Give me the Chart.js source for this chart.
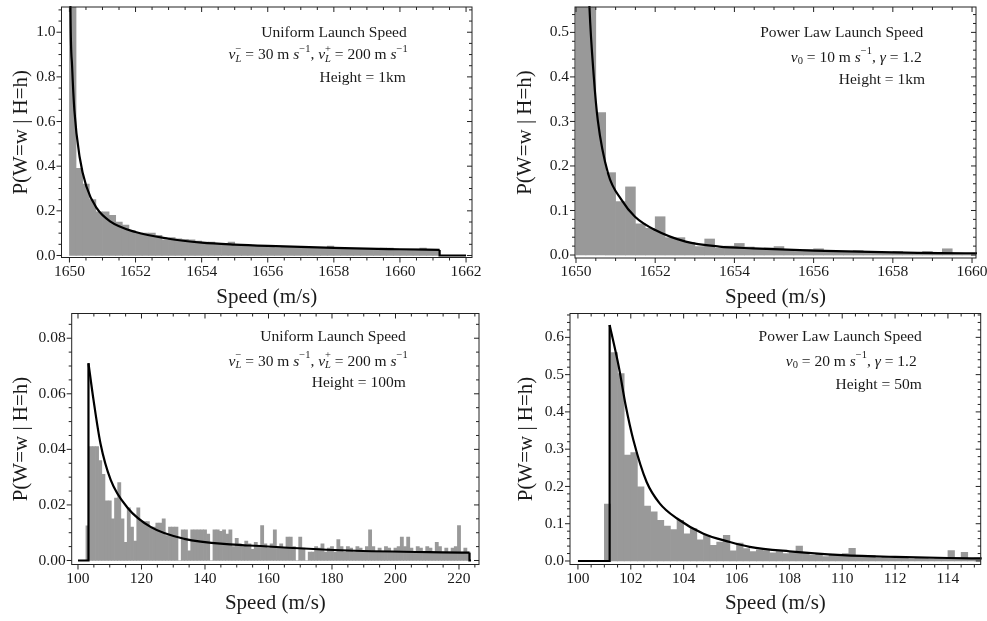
<!DOCTYPE html>
<html>
<head>
<meta charset="utf-8">
<title>Speed distributions</title>
<script src="https://cdn.jsdelivr.net/npm/chart.js@4"></script>
<style>
  body { margin: 0; background: #fff; }
  #wrap { position: relative; width: 987px; height: 621px; overflow: hidden; }
  canvas { position: absolute; }
</style>
</head>
<body>
<div id="wrap">
  <canvas id="cA" width="490" height="310" style="left:0;top:0"></canvas>
  <canvas id="cB" width="492" height="310" style="left:495px;top:0"></canvas>
  <canvas id="cC" width="490" height="316" style="left:0;top:305px"></canvas>
  <canvas id="cD" width="492" height="316" style="left:495px;top:305px"></canvas>
</div>
<script>
// ---- top left: uniform launch speed, height 1 km ----
const binStartA = 1650, binWidthA = 0.2;
const barsA = [2.0, 0.39, 0.32, 0.25, 0.195, 0.195, 0.18, 0.15, 0.136, 0.11,
  0.10, 0.10, 0.10, 0.09, 0.07, 0.08, 0.075, 0.072, 0.07, 0.065,
  0.06, 0.06, 0.055, 0.052, 0.06, 0.05, 0.048, 0.045, 0.045, 0.044,
  0.04, 0.035, 0.04, 0.038, 0.037, 0.036, 0.035, 0.034, 0.034, 0.042,
  0.033, 0.032, 0.031, 0.03, 0.03, 0.03, 0.029, 0.033, 0.033, 0.028,
  0.027, 0.026, 0.027, 0.033, 0.026, 0.025];
const curveAx = [1650.015, 1650.03, 1650.08, 1650.15, 1650.31, 1650.51, 1650.82, 1651.23, 1652, 1653, 1654, 1655, 1656, 1658, 1660, 1661.2];
const curveAy = [1.6, 1.12, 0.85, 0.65, 0.44, 0.31, 0.213, 0.153, 0.105, 0.075, 0.058, 0.049, 0.043, 0.034, 0.028, 0.025];
const stepsA = [[[1661.2, 1661.2, 1662], [0.025, 0, 0]]];
const xTicksA = [1650, 1652, 1654, 1656, 1658, 1660, 1662];
const yTicksA = [0, 0.2, 0.4, 0.6, 0.8, 1.0];

// ---- top right: power law launch speed, height 1 km ----
const binStartB = 1650, binWidthB = 0.25;
const barsB = [0.9, 0.7, 0.32, 0.185, 0.12, 0.153, 0.07, 0.06, 0.086, 0.039,
  0.039, 0.028, 0.019, 0.036, 0.015, 0.02, 0.026, 0.018, 0.014, 0.016,
  0.019, 0.012, 0.008, 0.012, 0.014, 0.01, 0.008, 0.006, 0.01, 0.008,
  0.004, 0.006, 0.008, 0.005, 0.003, 0.008, 0.004, 0.014, 0.004, 0.002, 0.002];
const curveBx = [1650.25, 1650.34, 1650.45, 1650.55, 1650.81, 1651.15, 1651.49, 1652, 1652.77, 1653.62, 1654.47, 1656, 1658, 1660, 1660.2];
const curveBy = [0.8, 0.557, 0.40, 0.303, 0.183, 0.124, 0.086, 0.056, 0.030, 0.019, 0.015, 0.010, 0.006, 0.004, 0.004];
const stepsB = [];
const xTicksB = [1650, 1652, 1654, 1656, 1658, 1660];
const yTicksB = [0, 0.1, 0.2, 0.3, 0.4, 0.5];

// ---- bottom left: uniform launch speed, height 100 m ----
const binStartC = 102.5, binWidthC = 1;
const barsC = [0.0125, 0.041, 0.041, 0.041, 0.036, 0.031, 0.0215, 0.0215, 0.015, 0.0225,
  0.028, 0.015, 0.0065, 0.019, 0.012, 0.007, 0.019, 0.014, 0.014, 0.014,
  0.012, 0.012, 0.0135, 0.0135, 0.015, 0.009, 0.012, 0.012, 0.012, 0,
  0.011, 0.011, 0.0035,
  0.011, 0.011, 0.011, 0.011, 0.011, 0.0095, 0, 0.011, 0.011, 0.0105, 0.011, 0.0095, 0.011, 0.005, 0.008,
  0.006, 0.005, 0.007, 0.006, 0.004, 0.0065, 0.005, 0.0126, 0.006, 0.0045,
  0.006, 0.011, 0.005, 0.006, 0.0045, 0.0084, 0.0084, 0.005, 0, 0.0084,
  0.0045, 0, 0.003, 0.003, 0.005, 0.0045, 0.006, 0.003, 0.0045, 0.005,
  0.003, 0.0075, 0.005, 0.003, 0.005, 0.0045, 0.003, 0.005, 0.0045, 0.003,
  0.005, 0.011, 0.005, 0.003, 0.0045, 0.003, 0.005, 0.0045, 0.003, 0.0045,
  0.005, 0.0084, 0.005, 0.0084, 0.0045, 0.003, 0.005, 0.0045, 0.003, 0.005,
  0.0045, 0.003, 0.0065, 0.005, 0.003, 0.0045, 0.003, 0.0045, 0.005, 0.0126,
  0.003, 0.0045, 0.003];
const curveCx = [103.3, 104.9, 107.1, 110.3, 115.6, 123, 133.5, 149.3, 154, 185, 223.3];
const curveCy = [0.071, 0.0577, 0.042, 0.029, 0.019, 0.012, 0.0078, 0.0057, 0.0054, 0.0036, 0.0028];
const stepsC = [[[100, 103.3, 103.3], [0, 0, 0.071]], [[223.3, 223.3, 223.8], [0.0028, 0, 0]]];
const xTicksC = [100, 120, 140, 160, 180, 200, 220];
const yTicksC = [0, 0.02, 0.04, 0.06, 0.08];

// ---- bottom right: power law launch speed, height 50 m ----
const binStartD = 101, binWidthD = 0.25;
const barsD = [0.153, 0.559, 0.503, 0.284, 0.291, 0.199, 0.147, 0.132, 0.109, 0.094,
  0.084, 0.109, 0.073, 0.087, 0.057, 0.069, 0.042, 0.051, 0.069, 0.027,
  0.048, 0.033, 0.025, 0.03, 0.028, 0.022, 0.025, 0.02, 0.022, 0.04,
  0.022, 0.015, 0.02, 0.012, 0.016, 0.018, 0.02, 0.034, 0.014, 0.012,
  0.015, 0.008, 0.01, 0.012, 0.008, 0.01, 0.006, 0.01, 0.008, 0.006,
  0.008, 0.006, 0.028, 0.008, 0.023, 0.006, 0.008];
const curveDx = [101.2, 101.55, 101.8, 102.1, 102.6, 103.1, 103.75, 104.75, 105.75, 106.5, 108, 110, 112, 114, 115.3];
const curveDy = [0.633, 0.52, 0.42, 0.324, 0.212, 0.154, 0.114, 0.073, 0.051, 0.038, 0.026, 0.016, 0.011, 0.008, 0.007];
const stepsD = [[[100, 101.2, 101.2], [0, 0, 0.633]]];
const xTicksD = [100, 102, 104, 106, 108, 110, 112, 114];
const yTicksD = [0, 0.1, 0.2, 0.3, 0.4, 0.5, 0.6];

const FONT = "'Liberation Serif', 'Times New Roman', serif";
const INK = '#1a1a1a';

const uniformNote = [
  [{ t: 'Uniform Launch Speed' }],
  [{ t: 'v', i: 1 }, { t: 'L', i: 1, sub: 1 }, { t: '\u2212', sup: 1, stack: 1 }, { t: ' = 30 m ' }, { t: 's', i: 1 }, { t: '\u22121', sup: 1 },
   { t: ', ' }, { t: 'v', i: 1 }, { t: 'L', i: 1, sub: 1 }, { t: '+', sup: 1, stack: 1 }, { t: ' = 200 m ' }, { t: 's', i: 1 }, { t: '\u22121', sup: 1 }]
];
function powerNote(v0) {
  return [
    [{ t: 'Power Law Launch Speed' }],
    [{ t: 'v', i: 1 }, { t: '0', sub: 1 }, { t: ' = ' + v0 + ' m ' }, { t: 's', i: 1 }, { t: '\u22121', sup: 1 }, { t: ', ' }, { t: '\u03b3', i: 1 }, { t: ' = 1.2' }]
  ];
}

function pts(xs, ys) {
  return xs.map((x, i) => ({ x: x, y: ys[i] }));
}

// draw one line of mixed text (italic, sub and superscripts), right aligned
function drawRich(ctx, parts, right, y) {
  const fontOf = p => (p.i ? 'italic ' : '') + (p.sub || p.sup ? 10.5 : 15.5) + 'px ' + FONT;
  const widths = parts.map(p => { ctx.font = fontOf(p); return ctx.measureText(p.t).width; });
  const xs = [];
  let total = 0;
  parts.forEach((p, i) => {
    if (p.stack) {
      xs.push(xs[i - 1]);
      total = xs[i - 1] + Math.max(widths[i - 1], widths[i]);
    } else {
      xs.push(total);
      total += widths[i];
    }
  });
  const x0 = right - total;
  parts.forEach((p, i) => {
    ctx.font = fontOf(p);
    ctx.fillText(p.t, x0 + xs[i], y + (p.sub ? 4 : p.sup ? -6 : 0));
  });
}

function makePanel(id, p) {
  const bars = p.bars.map((v, i) => ({ x: p.binStart + (i + 0.5) * p.binWidth, y: v }));
  const lineStyle = { type: 'line', borderColor: '#000', borderWidth: 2.2, pointRadius: 0, fill: false, clip: 1, order: 0 };
  const datasets = [
    Object.assign({ data: pts(p.curveX, p.curveY), cubicInterpolationMode: 'monotone' }, lineStyle)
  ];
  p.steps.forEach(s => datasets.push(Object.assign({ data: pts(s[0], s[1]), tension: 0 }, lineStyle)));
  datasets.push({ type: 'bar', data: bars, backgroundColor: '#999999', borderWidth: 0,
    barPercentage: 1, categoryPercentage: 1, clip: 0, order: 2 });

  const c = p.canvas, f = p.frame;
  const near = (list, v) => list.some(t => Math.abs(t - v) < 1e-6);

  // frame with ticks on all four sides
  const framePlugin = {
    id: 'frame' + id,
    afterDraw(chart) {
      const { ctx, chartArea: a, scales: { x, y } } = chart;
      ctx.save();
      ctx.strokeStyle = '#222';
      ctx.lineWidth = 1;
      ctx.beginPath();
      for (let k = Math.ceil(x.min / p.xMinor - 1e-9); k * p.xMinor <= x.max + 1e-9; k++) {
        const v = k * p.xMinor, px = x.getPixelForValue(v);
        const len = near(p.xTicks, v) ? 5 : 3;
        ctx.moveTo(px, a.bottom); ctx.lineTo(px, a.bottom + len);
        ctx.moveTo(px, a.top); ctx.lineTo(px, a.top + len);
      }
      for (let k = Math.ceil(y.min / p.yMinor - 1e-9); k * p.yMinor <= y.max + 1e-9; k++) {
        const v = k * p.yMinor, py = y.getPixelForValue(v);
        const len = near(p.yTicks, v) ? 5 : 3;
        ctx.moveTo(a.left, py); ctx.lineTo(a.left - len, py);
        ctx.moveTo(a.right, py); ctx.lineTo(a.right - len, py);
      }
      ctx.stroke();
      ctx.strokeRect(a.left, a.top, a.right - a.left, a.bottom - a.top);
      ctx.restore();
    }
  };

  const notePlugin = {
    id: 'note' + id,
    afterDraw(chart) {
      const { ctx, chartArea: a } = chart;
      ctx.save();
      ctx.fillStyle = INK;
      ctx.textBaseline = 'middle';
      p.note.forEach((line, i) => drawRich(ctx, line, a.right - p.noteRight[i], a.top + p.noteY[i]));
      ctx.restore();
    }
  };

  return new Chart(document.getElementById(id), {
    type: 'bar',
    data: { datasets: datasets },
    options: {
      responsive: false,
      animation: false,
      events: [],
      layout: { padding: { left: 0, top: f.t - c.t, right: c.l + c.w - f.r, bottom: 0 } },
      plugins: { legend: { display: false }, tooltip: { enabled: false } },
      scales: {
        x: {
          type: 'linear', offset: false, min: p.xMin, max: p.xMax,
          grid: { display: false, drawTicks: false }, border: { display: false },
          ticks: { font: { family: FONT, size: 15.5 }, color: INK, padding: 5, maxRotation: 0, autoSkip: false,
            callback: v => String(v) },
          afterBuildTicks: s => { s.ticks = p.xTicks.map(v => ({ value: v })); },
          afterFit: s => { s.height = c.t + c.h - f.b; s.paddingLeft = 0; s.paddingRight = 0; },
          title: { display: true, text: 'Speed (m/s)', color: INK, font: { family: FONT, size: 21 },
            padding: { top: 0, bottom: c.t + c.h - 12.6 - p.xTitleY } }
        },
        y: {
          type: 'linear', min: p.yMin, max: p.yMax,
          grid: { display: false, drawTicks: false }, border: { display: false },
          ticks: { font: { family: FONT, size: 15.5 }, color: INK, padding: 6,
            callback: v => Number(v).toFixed(p.yDigits) },
          afterBuildTicks: s => { s.ticks = p.yTicks.map(v => ({ value: v })); },
          afterFit: s => { s.width = f.l - c.l; s.paddingTop = 0; s.paddingBottom = 0; },
          title: { display: true, text: 'P(W=w | H=h)', color: INK, font: { family: FONT, size: 21 },
            padding: { top: p.yTitleX - c.l - 12.6, bottom: 0 } }
        }
      }
    },
    plugins: [framePlugin, notePlugin]
  });
}

makePanel('cA', {
  canvas: { l: 0, t: 0, w: 490, h: 310 }, frame: { l: 61.5, t: 7, r: 472, b: 257.5 },
  xMin: 1649.76, xMax: 1662.18, yMin: -0.009, yMax: 1.113, yDigits: 1,
  xTicks: xTicksA, yTicks: yTicksA, xMinor: 0.5, yMinor: 0.05,
  bars: barsA, binStart: binStartA, binWidth: binWidthA,
  curveX: curveAx, curveY: curveAy, steps: stepsA,
  yTitleX: 21.7, xTitleY: 297,
  note: uniformNote.concat([[{ t: 'Height = 1km' }]]), noteRight: [65.3, 64.3, 66.3], noteY: [25.7, 48, 70.7]
});

makePanel('cB', {
  canvas: { l: 495, t: 0, w: 492, h: 310 }, frame: { l: 575, t: 7, r: 976, b: 258 },
  xMin: 1649.975, xMax: 1660.1, yMin: -0.0067, yMax: 0.557, yDigits: 1,
  xTicks: xTicksB, yTicks: yTicksB, xMinor: 0.5, yMinor: 0.02,
  bars: barsB, binStart: binStartB, binWidth: binWidthB,
  curveX: curveBx, curveY: curveBy, steps: stepsB,
  yTitleX: 525, xTitleY: 297,
  note: powerNote(10).concat([[{ t: 'Height = 1km' }]]), noteRight: [52.7, 54.3, 51], noteY: [26, 50.7, 73]
});

makePanel('cC', {
  canvas: { l: 0, t: 305, w: 490, h: 316 }, frame: { l: 71.7, t: 313.5, r: 479, b: 564.5 },
  xMin: 98.02, xMax: 226.3, yMin: -0.00144, yMax: 0.0889, yDigits: 2,
  xTicks: xTicksC, yTicks: yTicksC, xMinor: 5, yMinor: 0.005,
  bars: barsC, binStart: binStartC, binWidth: binWidthC,
  curveX: curveCx, curveY: curveCy, steps: stepsC,
  yTitleX: 21.7, xTitleY: 603,
  note: uniformNote.concat([[{ t: 'Height = 100m' }]]), noteRight: [73.3, 71.3, 73.3], noteY: [23.8, 48.2, 69.8]
});

makePanel('cD', {
  canvas: { l: 495, t: 305, w: 492, h: 316 }, frame: { l: 570, t: 313.5, r: 980.7, b: 564.5 },
  xMin: 99.7, xMax: 115.24, yMin: -0.0094, yMax: 0.664, yDigits: 1,
  xTicks: xTicksD, yTicks: yTicksD, xMinor: 0.5, yMinor: 0.02,
  bars: barsD, binStart: binStartD, binWidth: binWidthD,
  curveX: curveDx, curveY: curveDy, steps: stepsD,
  yTitleX: 526.7, xTitleY: 603,
  note: powerNote(20).concat([[{ t: 'Height = 50m' }]]), noteRight: [59, 64, 59], noteY: [23.8, 48.2, 71.5]
});
</script>
</body>
</html>
